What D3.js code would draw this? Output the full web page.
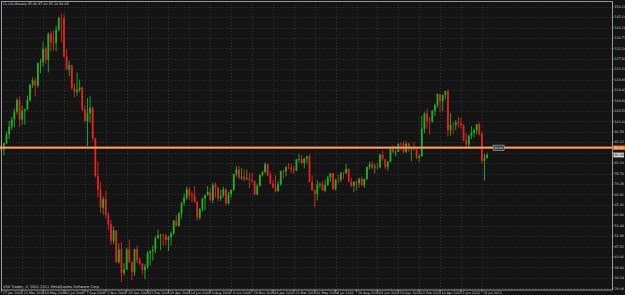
<!DOCTYPE html>
<html>
<head>
<meta charset="utf-8">
<script src="https://cdn.jsdelivr.net/npm/d3@7"></script>
<style>
html, body { margin: 0; padding: 0; background: #141414; overflow: hidden; }
</style>
</head>
<body>
<script>
// weekly CL-OIL bars, index 0 = week of 27 Jan 2008
const opens = [90.70,88.96,91.77,95.50,98.81,101.84,105.15,110.21,101.84,105.62,
  106.23,110.14,116.69,118.52,116.32,125.96,126.29,132.19,127.35,138.54,
  134.86,134.62,140.21,145.29,145.08,128.88,123.26,125.10,115.20,113.77,
  114.59,115.46,106.23,101.18,104.55,106.89,93.88,77.70,71.85,64.15,
  67.81,61.04,57.04,49.93,54.43,40.81,46.28,36.20,37.71,46.34,
  40.83,36.51,46.47,41.68,40.17,37.51,38.94,44.76,45.52,46.25,
  51.06,52.38,52.51,52.24,50.33,51.55,53.20,58.63,56.34,61.67,
  66.31,68.44,72.04,69.55,69.16,66.73,59.89,63.56,68.05,69.45,
  70.93,67.51,73.89,72.74,68.02,69.29,72.04,66.02,69.95,71.77,
  78.53,80.50,77.00,77.43,76.35,76.72,76.05,75.47,69.87,73.36,
  78.05,79.36,82.75,78.00,74.54,72.89,71.19,74.13,79.81,79.66,
  81.50,81.24,80.68,80.00,84.87,84.92,83.24,85.12,86.15,75.11,
  71.61,70.04,73.97,74.30,71.51,73.78,77.18,78.86,72.14,76.09,
  76.01,78.98,78.95,80.70,75.39,73.46,75.17,74.60,76.45,73.66,
  76.49,81.58,82.66,81.25,81.69,81.43,86.85,84.88,81.51,83.76,
  89.19,87.79,88.02,91.51,91.38,88.03,91.54,89.11,89.34,89.03,
  85.58,86.20,97.88,104.42,101.16,101.07,105.40,107.94,112.79,109.66,
  112.29,113.93,97.18,99.65,99.49,100.59,100.22,99.29,93.01,91.16,
  94.94,96.20,97.24,99.87,95.70,84.20,85.40];

const highs = [92.80,91.90,96.70,101.30,103.00,106.50,111.00,111.80,107.90,106.50,
  112.20,117.00,119.90,119.50,126.20,127.80,135.10,133.00,139.10,139.90,
  139.90,142.00,145.90,147.27,146.70,132.00,127.00,125.30,117.30,122.00,
  119.00,116.00,108.00,111.00,112.00,107.50,94.00,83.90,75.20,69.00,
  71.30,62.30,59.00,56.00,54.50,49.00,49.50,40.50,47.00,50.50,
  41.50,46.50,48.00,43.00,40.50,40.00,45.50,46.00,48.00,52.00,
  54.70,53.00,53.00,53.00,52.00,54.00,58.80,61.00,62.30,66.40,
  70.30,73.20,73.00,71.00,73.40,67.00,64.00,68.40,69.80,73.40,
  72.80,74.70,75.00,73.00,71.90,73.20,72.50,71.00,72.00,78.70,
  82.00,82.00,81.00,80.50,80.50,79.00,79.00,76.00,74.50,78.50,
  80.00,83.50,83.00,79.50,76.00,78.00,75.50,80.00,80.50,82.00,
  83.20,83.00,82.00,85.00,87.10,86.60,85.50,86.40,87.00,78.00,
  72.00,75.80,75.00,75.50,76.20,77.80,79.00,79.00,76.50,78.20,
  79.50,79.50,82.90,81.00,77.00,75.50,75.80,77.00,77.50,76.50,
  81.80,83.80,84.00,83.00,83.50,87.20,88.60,85.00,84.00,89.50,
  90.80,89.00,91.60,92.00,92.60,92.60,92.00,89.90,92.20,89.40,
  86.90,103.40,104.90,106.50,103.00,106.00,108.50,113.00,112.80,112.50,
  114.00,114.80,104.60,101.00,101.60,103.00,102.50,100.00,96.00,95.40,
  99.00,98.00,100.00,100.60,96.70,87.10,87.60];

const lows = [88.00,86.50,91.30,93.50,97.50,98.50,104.00,98.65,99.50,99.60,
  105.80,109.50,115.40,111.80,115.50,121.60,124.50,125.50,122.00,131.00,
  131.20,131.00,139.50,135.00,128.30,122.90,120.40,114.60,111.30,112.00,
  113.50,105.50,100.50,90.50,100.50,92.50,77.00,68.60,62.00,61.30,
  59.50,54.60,48.30,48.50,40.50,40.30,32.40,35.10,37.50,40.50,
  33.20,35.00,40.50,39.50,35.70,33.60,38.00,39.40,41.50,44.60,
  51.00,46.00,47.80,48.00,45.60,48.00,52.50,56.00,56.00,59.50,
  65.00,67.50,67.60,66.50,66.20,58.50,59.00,62.50,63.00,69.40,
  66.80,66.10,68.50,66.80,67.00,68.50,65.00,65.40,68.50,71.30,
  77.50,76.30,76.00,75.30,76.00,72.40,74.50,69.50,69.50,73.30,
  77.50,78.80,77.50,74.30,72.40,70.70,71.00,73.50,76.50,77.50,
  80.50,79.00,78.50,79.80,83.50,82.60,81.00,83.00,74.90,71.30,
  64.20,67.20,72.50,71.30,70.80,73.50,75.20,71.80,71.50,74.50,
  75.00,76.30,78.70,75.00,73.00,70.80,71.50,72.80,73.50,72.60,
  76.00,80.50,80.50,78.80,80.30,80.90,84.30,80.60,80.00,83.60,
  87.50,86.10,87.90,88.70,87.40,87.50,88.00,84.00,88.50,84.90,
  83.90,86.00,96.00,98.00,95.40,100.50,103.30,106.80,105.00,105.50,
  110.50,94.60,95.00,95.50,97.20,98.40,97.80,92.60,89.60,90.10,
  93.50,94.20,95.50,95.00,83.00,75.70,85.10];

const closes = [88.96,91.77,95.50,98.81,101.84,105.15,110.21,101.84,105.62,106.23,
  110.14,116.69,118.52,116.32,125.96,126.29,132.19,127.35,138.54,134.86,
  134.62,140.21,145.29,145.08,128.88,123.26,125.10,115.20,113.77,114.59,
  115.46,106.23,101.18,104.55,106.89,93.88,77.70,71.85,64.15,67.81,
  61.04,57.04,49.93,54.43,40.81,46.28,36.20,37.71,46.34,40.83,
  36.51,46.47,41.68,40.17,37.51,38.94,44.76,45.52,46.25,51.06,
  52.38,52.51,52.24,50.33,51.55,53.20,58.63,56.34,61.67,66.31,
  68.44,72.04,69.55,69.16,66.73,59.89,63.56,68.05,69.45,70.93,
  67.51,73.89,72.74,68.02,69.29,72.04,66.02,69.95,71.77,78.53,
  80.50,77.00,77.43,76.35,76.72,76.05,75.47,69.87,73.36,78.05,
  79.36,82.75,78.00,74.54,72.89,71.19,74.13,79.81,79.66,81.50,
  81.24,80.68,80.00,84.87,84.92,83.24,85.12,86.15,75.11,71.61,
  70.04,73.97,74.30,71.51,73.78,77.18,78.86,72.14,76.09,76.01,
  78.98,78.95,80.70,75.39,73.46,75.17,74.60,76.45,73.66,76.49,
  81.58,82.66,81.25,81.69,81.43,86.85,84.88,81.51,83.76,89.19,
  87.79,88.02,91.51,91.38,88.03,91.54,89.11,89.34,89.03,85.58,
  86.20,97.88,104.42,101.16,101.07,105.40,107.94,112.79,109.66,112.29,
  113.93,97.18,99.65,99.49,100.59,100.22,99.29,93.01,91.16,94.94,
  96.20,97.24,99.87,95.70,84.20,85.40,86.68];

// one date label every 8 bars
const dateLabels = ["27 Jan 2008","23 Mar 2008","18 May 2008","13 Jul 2008","7 Sep 2008",
  "2 Nov 2008","28 Dec 2008","22 Feb 2009","19 Apr 2009","14 Jun 2009","9 Aug 2009",
  "4 Oct 2009","29 Nov 2009","24 Jan 2010","21 Mar 2010","16 May 2010","4 Jul 2010",
  "29 Aug 2010","24 Oct 2010","19 Dec 2010","13 Feb 2011","10 Apr 2011","5 Jun 2011",
  "31 Jul 2011"];

const priceTicks = [150.10,145.64,141.18,136.72,132.26,127.80,123.34,118.88,114.42,
  109.96,105.50,101.04,96.58,92.12,87.66,83.20,78.74,74.28,69.82,65.36,60.90,
  56.44,51.98,47.52,43.06,38.60,34.14,29.68];

const levelPrice = 89.80;
const lastPrice = 86.68;
const title = "CL-OIL,Weekly  85.40 87.60 85.10 86.68";
const copyright = "VSX Trader, © 2001-2011 MetaQuotes Software Corp.";

const width = 625, height = 295;
const plot = {left: 1, right: 612, top: 1, bottom: 289.5};
const small = 3.3;

const svg = d3.select("body").append("svg")
    .attr("width", width)
    .attr("height", height)
    .style("display", "block")
    .style("background", "#141414")
    .style("font-family", "'DejaVu Sans', sans-serif");

const x = d3.scaleLinear()
    .domain([0, 186])
    .range([1.3, 487.1]);

const y = d3.scaleLinear()
    .domain([29.68, 150.10])
    .range([288.3, 6.7]);

const bars = closes.map((c, i) => ({i: i, o: opens[i], h: highs[i], l: lows[i], c: c}));

// grid
svg.append("g").selectAll("line")
    .data(priceTicks)
    .join("line")
    .attr("x1", plot.left).attr("x2", plot.right)
    .attr("y1", d => Math.round(y(d)) + 0.5).attr("y2", d => Math.round(y(d)) + 0.5)
    .attr("stroke", "#3a3a3a")
    .attr("stroke-width", 0.8)
    .attr("stroke-dasharray", "1,2");

svg.append("g").selectAll("line")
    .data(dateLabels)
    .join("line")
    .attr("x1", (d, k) => Math.round(x(k * 8)) + 0.5).attr("x2", (d, k) => Math.round(x(k * 8)) + 0.5)
    .attr("y1", plot.top).attr("y2", plot.bottom)
    .attr("stroke", "#3a3a3a")
    .attr("stroke-width", 0.8)
    .attr("stroke-dasharray", "1,2");

// candles
const candle = svg.append("g").selectAll("g")
    .data(bars)
    .join("g");

candle.append("line")
    .attr("x1", d => x(d.i)).attr("x2", d => x(d.i))
    .attr("y1", d => y(d.h)).attr("y2", d => y(d.l))
    .attr("stroke", d => d.c >= d.o ? "#22b022" : "#e42222")
    .attr("stroke-width", 0.9);

candle.append("rect")
    .attr("x", d => x(d.i) - 0.9)
    .attr("width", 1.8)
    .attr("y", d => y(Math.max(d.o, d.c)))
    .attr("height", d => Math.max(0.6, Math.abs(y(d.o) - y(d.c))))
    .attr("fill", d => d.c >= d.o ? "#22b022" : "#e42222");

// horizontal level line
svg.append("line")
    .attr("x1", 0).attr("x2", plot.right)
    .attr("y1", y(levelPrice)).attr("y2", y(levelPrice))
    .attr("stroke", "#ee7530")
    .attr("stroke-width", 2.2);
svg.append("line")
    .attr("x1", 0).attr("x2", plot.right)
    .attr("y1", y(levelPrice)).attr("y2", y(levelPrice))
    .attr("stroke", "#ffcfae")
    .attr("stroke-width", 0.7);

// small text object on the line
svg.append("rect")
    .attr("x", x(186) + 6).attr("y", y(levelPrice) - 2.6)
    .attr("width", 11).attr("height", 5.2)
    .attr("fill", "#3a3a3a")
    .attr("stroke", "#b0b0b0")
    .attr("stroke-width", 0.6);
svg.append("text")
    .attr("x", x(186) + 11.5).attr("y", y(levelPrice) + 1.2)
    .attr("text-anchor", "middle")
    .attr("font-size", 3.0)
    .attr("fill", "#e0e0e0")
    .text(levelPrice.toFixed(2));

// frame
svg.append("rect")
    .attr("x", plot.left + 0.5).attr("y", plot.top + 0.5)
    .attr("width", plot.right - plot.left).attr("height", plot.bottom - plot.top)
    .attr("fill", "none")
    .attr("stroke", "#b8b8b8")
    .attr("stroke-width", 0.8);

// price axis labels
svg.append("g").selectAll("text")
    .data(priceTicks.filter(d => Math.abs(y(d) - y(lastPrice)) > 4.5 && Math.abs(y(d) - y(levelPrice)) > 3))
    .join("text")
    .attr("x", plot.right + 2.5)
    .attr("y", d => y(d) + 1.2)
    .attr("font-size", small)
    .attr("fill", "#c8c8c8")
    .text(d => d.toFixed(2));

svg.append("g").selectAll("line")
    .data(priceTicks)
    .join("line")
    .attr("x1", plot.right).attr("x2", plot.right + 1.8)
    .attr("y1", d => y(d)).attr("y2", d => y(d))
    .attr("stroke", "#b8b8b8")
    .attr("stroke-width", 0.6);

// level price label
svg.append("rect")
    .attr("x", plot.right + 1).attr("y", y(levelPrice) - 2.2)
    .attr("width", 12).attr("height", 4.4)
    .attr("fill", "#ee7530");
svg.append("text")
    .attr("x", plot.right + 2.5).attr("y", y(levelPrice) + 1.2)
    .attr("font-size", small)
    .attr("fill", "#ffffff")
    .text(levelPrice.toFixed(2));

// last price label
svg.append("rect")
    .attr("x", plot.right + 1.5).attr("y", y(lastPrice) - 2.4)
    .attr("width", 10.5).attr("height", 4.8)
    .attr("fill", "#d8d8d8");
svg.append("text")
    .attr("x", plot.right + 2.5).attr("y", y(lastPrice) + 1.2)
    .attr("font-size", small)
    .attr("fill", "#000")
    .text(lastPrice.toFixed(2));

// date axis
const dates = svg.append("g").selectAll("g")
    .data(dateLabels)
    .join("g")
    .attr("transform", (d, k) => "translate(" + x(k * 8) + ",0)");
dates.append("line")
    .attr("y1", plot.bottom).attr("y2", plot.bottom + 3)
    .attr("stroke", "#b8b8b8")
    .attr("stroke-width", 0.6);
dates.append("text")
    .attr("x", 1.5)
    .attr("y", 293.5)
    .attr("font-size", small)
    .attr("fill", "#c8c8c8")
    .text(d => d);

// title & copyright
svg.append("text")
    .attr("x", 3).attr("y", 5.2)
    .attr("font-size", small)
    .attr("fill", "#d0d0d0")
    .text(title);

svg.append("text")
    .attr("x", 3).attr("y", 288)
    .attr("font-size", 3.6)
    .attr("fill", "#d0d0d0")
    .text(copyright);
</script>
</body>
</html>
